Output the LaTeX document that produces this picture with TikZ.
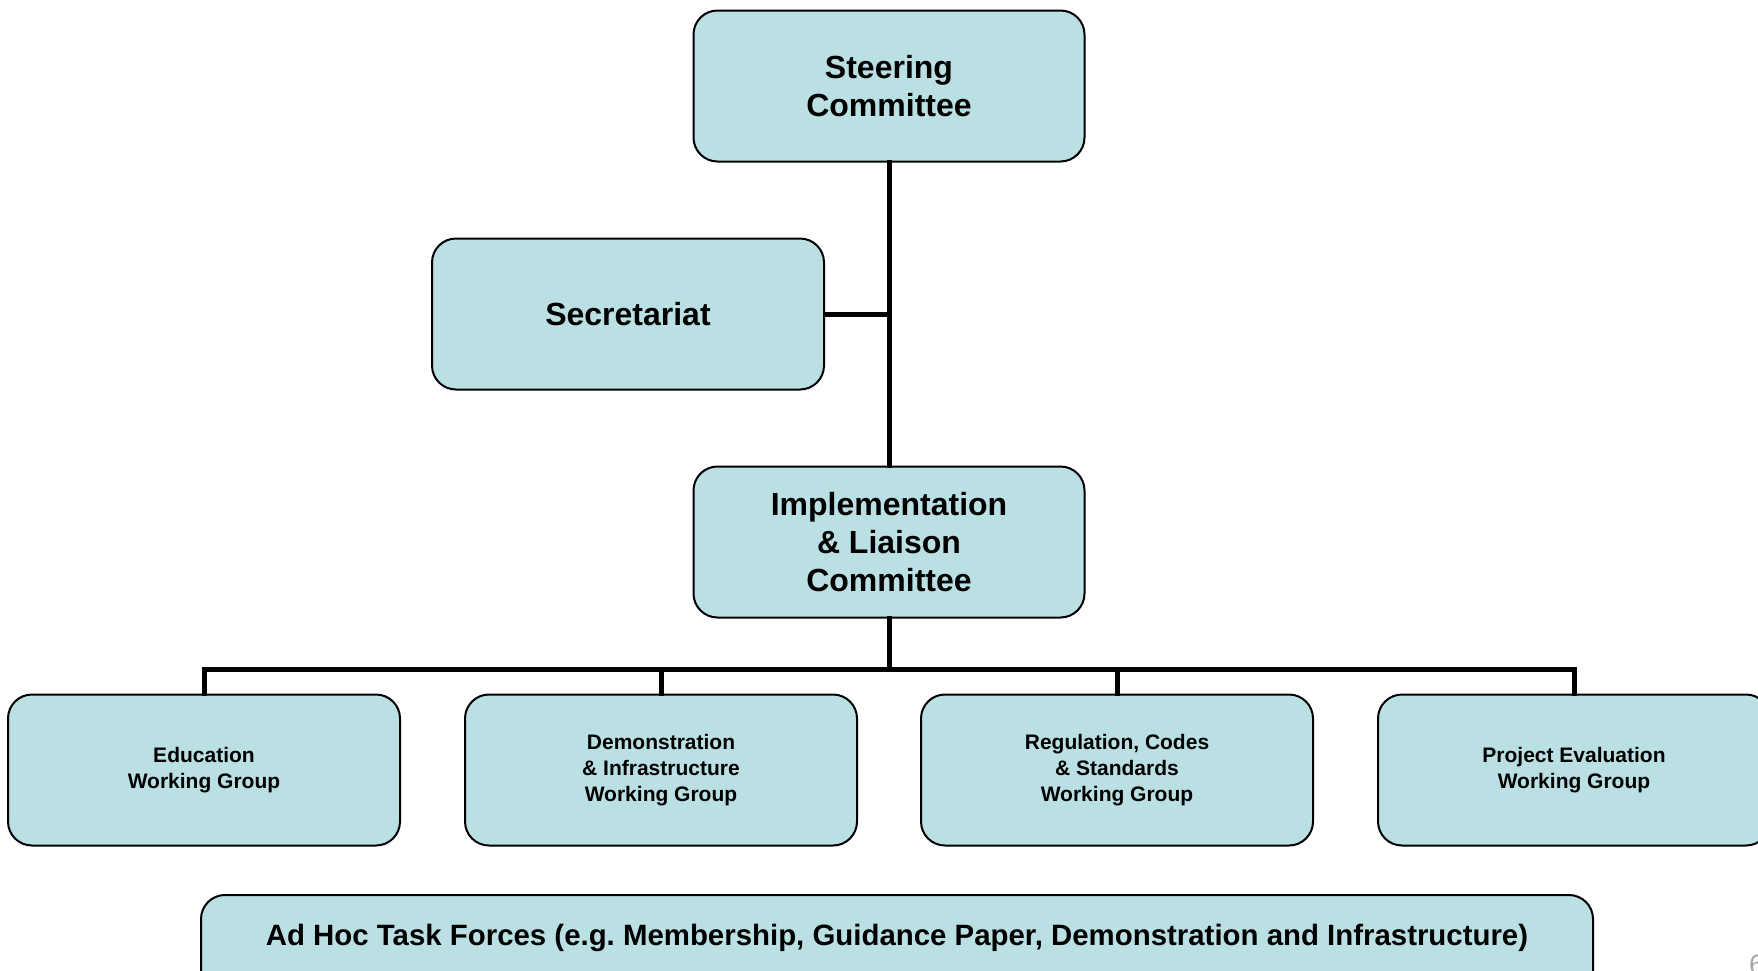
\documentclass[tikz,border=0pt]{standalone}
\usepackage{fontspec}
\setmainfont{Liberation Sans}
\definecolor{boxfill}{RGB}{186,224,228}
\tikzset{
  orgbox/.style={draw=black, line width=2pt, fill=boxfill, rounded corners=24pt,
    align=center, font=\bfseries, inner sep=0pt},
  bigbox/.style={orgbox, minimum width=391pt, minimum height=151pt,
    font=\fontsize{32}{38}\selectfont\bfseries},
  groupbox/.style={orgbox, minimum width=392pt, minimum height=151pt,
    font=\fontsize{21}{26}\selectfont\bfseries},
  conn/.style={line width=5pt, black, line cap=rect}
}
\begin{document}
\begin{tikzpicture}[x=1pt, y=-1pt]
  \useasboundingbox (0,0) rectangle (1758,970);
  % Ausschuesse
  \node[bigbox] (steer) at (889,86) {Steering\\Committee};
  \node[bigbox, minimum width=392pt] (sec) at (628,314) {Secretariat};
  \node[bigbox] (impl) at (889,542) {Implementation\\\& Liaison\\Committee};

  % Arbeitsgruppen
  \node[groupbox] (edu) at (204,770) {Education\\Working Group};
  \node[groupbox] (demo) at (661,770) {Demonstration\\\& Infrastructure\\Working Group};
  \node[groupbox] (reg) at (1117,770) {Regulation, Codes\\\& Standards\\Working Group};
  \node[groupbox] (eval) at (1574,770) {Project Evaluation\\Working Group};

  % Task Forces
  \node[orgbox, minimum width=1392pt, minimum height=120pt, anchor=north,
    font=\fontsize{29.4}{34}\selectfont\bfseries, text height=21pt, text depth=40pt] (adhoc) at (897,894)
    {Ad Hoc Task Forces (e.g.\ Membership, Guidance Paper, Demonstration and Infrastructure)};

  % Verbindungen
  \coordinate (bar) at (889,669);
  \draw[conn] (steer.south) -- (impl.north);
  \draw[conn] (sec.east) -- (sec.east -| steer.south);
  \draw[conn] (impl.south) -- (impl.south |- bar);
  \draw[conn] (edu.north |- bar) -- (eval.north |- bar);
  \foreach \grp in {edu,demo,reg,eval}
    \draw[conn] (\grp.north |- bar) -- (\grp.north);

  % Seitenzahl (abgeschnitten)
  \node[anchor=north west, inner sep=0pt, text=gray!70, font=\fontsize{28}{30}\selectfont] (pagenum) at (1749,955) {6};
\end{tikzpicture}
\end{document}
